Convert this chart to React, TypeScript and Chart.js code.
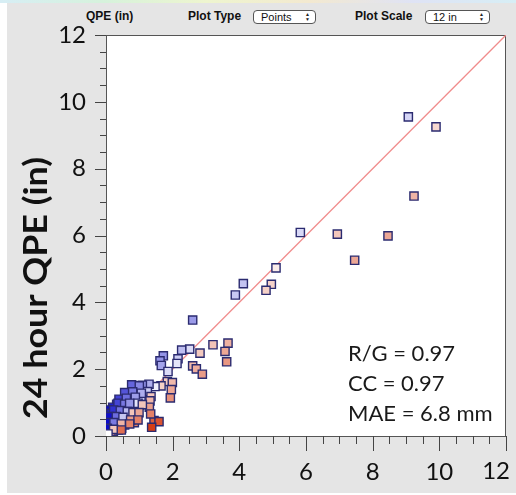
import React, { useEffect, useRef } from "react";
import { Chart, registerables } from "chart.js";
Chart.register(...registerables);

// Gauge (x) vs 24 hour QPE (y), inches
const gaugeIn = [
  9.07, 9.9, 9.24, 5.83, 6.94, 8.46, 7.46, 5.1, 4.12, 3.88, 4.96, 4.8, 2.6, 3.21, 3.66, 3.57, 3.62,
  2.82, 2.51, 2.27, 2.6, 2.71, 2.89, 1.72, 1.62, 1.66, 2.16, 2.13, 1.86, 1.84, 1.99, 1.96, 1.93,
  1.65, 1.47, 1.29, 1.09, 0.77, 1.24, 1.35, 1.32, 1.3, 1.05, 0.99, 0.87, 0.7, 0.57, 0.46, 0.32,
  0.2, 0.12, 0.63, 0.72, 0.77, 0.85, 0.52, 0.44, 0.56, 0.47, 0.28, 1.44, 1.59, 1.37, 0.15, 0.04,
  0.02, 0.07, 0.22, 0.37, 1.0, 0.56, 0.8, 1.06, 0.39, 0.61, 0.88, 0.36, 0.56, 0.71, 0.96, 1.09,
  0.23, 0.43, 0.64, 0.81, 0.99, 1.34, 0.11, 0.31, 0.51, 0.74, 0.96, 0.06, 0.24, 0.46, 0.71, 0.04,
  0.23, 0.46, 0.06,
];
const qpeIn = [
  9.55, 9.25, 7.18, 6.09, 6.04, 5.99, 5.26, 5.03, 4.56, 4.22, 4.54, 4.36, 3.47, 2.73, 2.78, 2.53, 2.22,
  2.48, 2.6, 2.57, 2.1, 2.01, 1.85, 2.4, 2.25, 2.11, 2.31, 2.17, 1.93, 1.63, 1.6, 1.39, 1.14,
  1.5, 1.48, 1.55, 1.52, 1.53, 1.33, 1.18, 1.05, 0.86, 1.13, 0.92, 1.03, 1.26, 1.1, 1.01, 0.95,
  0.86, 0.78, 0.83, 0.7, 0.58, 0.4, 0.53, 0.63, 0.33, 0.23, 0.28, 0.46, 0.43, 0.26, 0.68, 0.43,
  0.23, 0.08, 0.13, 0.18, 1.5, 1.3, 1.32, 1.28, 1.1, 1.13, 1.16, 0.98, 0.95, 0.98, 0.98, 0.94,
  0.78, 0.76, 0.73, 0.7, 0.7, 0.66, 0.58, 0.58, 0.56, 0.48, 0.48, 0.4, 0.4, 0.36, 0.36, 0.23,
  0.2, 0.18, 0.06,
];
const oneToOne = [0, 12];
const axisMin = 0;
const axisMax = 12;
const majorStep = 2;
const minorStep = 0.5;
const statLines = ["R/G = 0.97", "CC = 0.97", "MAE = 6.8 mm"];
const yTitle = "24 hour QPE (in)";
const headerTitle = "QPE (in)";
const plotTypeLabel = "Plot Type";
const plotTypeValue = "Points";
const plotScaleLabel = "Plot Scale";
const plotScaleValue = "12 in";

function pointColor(raw: any): string {
  if (!raw) return "#fff";
  const r = Math.max(raw.y, 0.01) / Math.max(raw.x, 0.01);
  const l = Math.log2(r);
  const t = Math.min(1, Math.sqrt(Math.min(Math.abs(l), 2.5) / 2.5));
  const end = l >= 0 ? [10, 10, 200] : [212, 58, 18];
  const c = end.map((e) => Math.round(255 + (e - 255) * t));
  return `rgb(${c[0]},${c[1]},${c[2]})`;
}

const FONT = "Lato, 'Open Sans', sans-serif";
const TICK_COLOR = "#111";

function Select({ left, width, text }: { left: number; width: number; text: string }) {
  return (
    <div
      style={{
        position: "absolute",
        left,
        top: 10,
        width,
        height: 14,
        boxSizing: "border-box",
        border: "1px solid #555",
        borderRadius: 4,
        background: "#fff",
        fontFamily: "'Liberation Sans', Arial, sans-serif",
        fontSize: 11,
        lineHeight: "12px",
        paddingLeft: 7,
        color: "#111",
      }}
    >
      {text}
      <div
        style={{
          position: "absolute",
          right: 5,
          top: 1,
          fontSize: 5,
          lineHeight: "5px",
          color: "#222",
        }}
      >
        ▲<br />▼
      </div>
    </div>
  );
}

export default function App() {
  const ref = useRef<HTMLCanvasElement>(null);
  useEffect(() => {
    document.body.style.margin = "0";
    const canvas = ref.current!;
    const decor = {
      id: "decor",
      beforeDatasetsDraw(chart: any) {
        const { ctx, chartArea: a } = chart;
        ctx.save();
        ctx.fillStyle = "#fff";
        ctx.fillRect(a.left, a.top, a.right - a.left, a.bottom - a.top);
        ctx.strokeStyle = "#555";
        ctx.lineWidth = 1;
        ctx.strokeRect(a.left + 0.5, a.top + 0.5, a.right - a.left - 1, a.bottom - a.top);
        const xs = chart.scales.x;
        const ys = chart.scales.y;
        ctx.strokeStyle = "#444";
        ctx.beginPath();
        for (let v = axisMin; v <= axisMax + 1e-9; v += minorStep) {
          const major = Math.abs(v / majorStep - Math.round(v / majorStep)) < 1e-6;
          const px = Math.round(xs.getPixelForValue(v)) + 0.5;
          ctx.moveTo(px, a.bottom);
          ctx.lineTo(px, a.bottom + (major ? 15 : 8));
          const py = Math.round(ys.getPixelForValue(v)) + 0.5;
          ctx.moveTo(a.left, py);
          ctx.lineTo(a.left - (major ? 11 : 6), py);
        }
        ctx.stroke();
        ctx.restore();
      },
      afterDraw(chart: any) {
        const { ctx, chartArea: a } = chart;
        const xs = chart.scales.x;
        ctx.save();
        // last x tick label, kept inside the canvas
        ctx.font = `24px ${FONT}`;
        ctx.fillStyle = TICK_COLOR;
        ctx.textAlign = "right";
        ctx.textBaseline = "middle";
        const lbl = String(axisMax);
        const lw = ctx.measureText(lbl).width;
        const lx = Math.min(xs.getPixelForValue(axisMax) + lw / 2, chart.width - 6);
        ctx.fillText(lbl, lx, a.bottom + 35);
        ctx.restore();

        ctx.save();
        ctx.fillStyle = "#1a1a1a";
        ctx.font = `22px ${FONT}`;
        ctx.textBaseline = "alphabetic";
        ctx.textAlign = "left";
        statLines.forEach((s, i) => ctx.fillText(s, a.left + 242, 361 + i * 30));
        ctx.translate(36, 288);
        ctx.rotate(-Math.PI / 2);
        ctx.font = `bold 33px ${FONT}`;
        const w = ctx.measureText(yTitle).width;
        ctx.scale(262 / w, 1);
        ctx.textAlign = "center";
        ctx.textBaseline = "middle";
        ctx.fillStyle = "#111";
        ctx.fillText(yTitle, 0, 0);
        ctx.restore();
      },
    };
    const tickFont = { family: FONT, size: 24 };
    const chart = new Chart(canvas, {
      type: "scatter",
      data: {
        datasets: [
          {
            type: "line",
            data: oneToOne.map((v) => ({ x: v, y: v })),
            borderColor: "#f08c8c",
            borderWidth: 1.3,
            pointRadius: 0,
            order: 2,
          } as any,
          {
            data: gaugeIn.map((x, i) => ({ x, y: qpeIn[i] })),
            pointStyle: "rect",
            pointRadius: 5.8,
            backgroundColor: (ctx: any) => pointColor(ctx.raw),
            borderColor: "#2b2b70",
            borderWidth: 1.4,
            order: 1,
          },
        ],
      },
      options: {
        animation: false,
        responsive: false,
        maintainAspectRatio: false,
        layout: { padding: { top: 35, right: 10, left: 0, bottom: 0 } },
        plugins: { legend: { display: false }, tooltip: { enabled: false } },
        scales: {
          x: {
            type: "linear",
            min: axisMin,
            max: axisMax,
            ticks: {
              stepSize: majorStep,
              font: tickFont,
              color: (c: any) => (c.tick && c.tick.value === axisMax ? "rgba(0,0,0,0)" : TICK_COLOR),
              padding: 22,
            },
            grid: { display: false, drawTicks: false },
            border: { display: false },
            afterFit: (s: any) => {
              s.height = 59;
              s.paddingLeft = 0;
              s.paddingRight = 0;
            },
          },
          y: {
            type: "linear",
            min: axisMin,
            max: axisMax,
            ticks: { stepSize: majorStep, font: tickFont, color: TICK_COLOR, padding: 20 },
            grid: { display: false, drawTicks: false },
            border: { display: false },
            afterFit: (s: any) => {
              s.width = 106;
              s.paddingTop = 0;
              s.paddingBottom = 0;
            },
          },
        },
      },
      plugins: [decor],
    });
    return () => chart.destroy();
  }, []);

  const labelStyle: React.CSSProperties = {
    position: "absolute",
    top: 9,
    fontFamily: "'Liberation Sans', Arial, sans-serif",
    fontWeight: "bold",
    fontSize: 12,
    color: "#111",
  };

  return (
    <div style={{ position: "relative", width: 516, height: 495, background: "#fff", overflow: "hidden" }}>
      <div
        style={{
          position: "absolute",
          left: 0,
          top: 0,
          width: 516,
          height: 3,
          background: "linear-gradient(90deg,#d7eef5,#d6f2dc,#eef5cf,#f3e9d0,#dfe3f5,#d7eef5)",
        }}
      />
      <div style={{ position: "absolute", left: 7, top: 3, width: 509, height: 490, background: "#e5e5e5" }} />
      <div style={{ ...labelStyle, left: 86 }}>{headerTitle}</div>
      <div style={{ ...labelStyle, left: 188 }}>{plotTypeLabel}</div>
      <Select left={253} width={63} text={plotTypeValue} />
      <div style={{ ...labelStyle, left: 355 }}>{plotScaleLabel}</div>
      <Select left={425} width={65} text={plotScaleValue} />
      <canvas ref={ref} width={516} height={495} style={{ position: "absolute", left: 0, top: 0 }} />
    </div>
  );
}
